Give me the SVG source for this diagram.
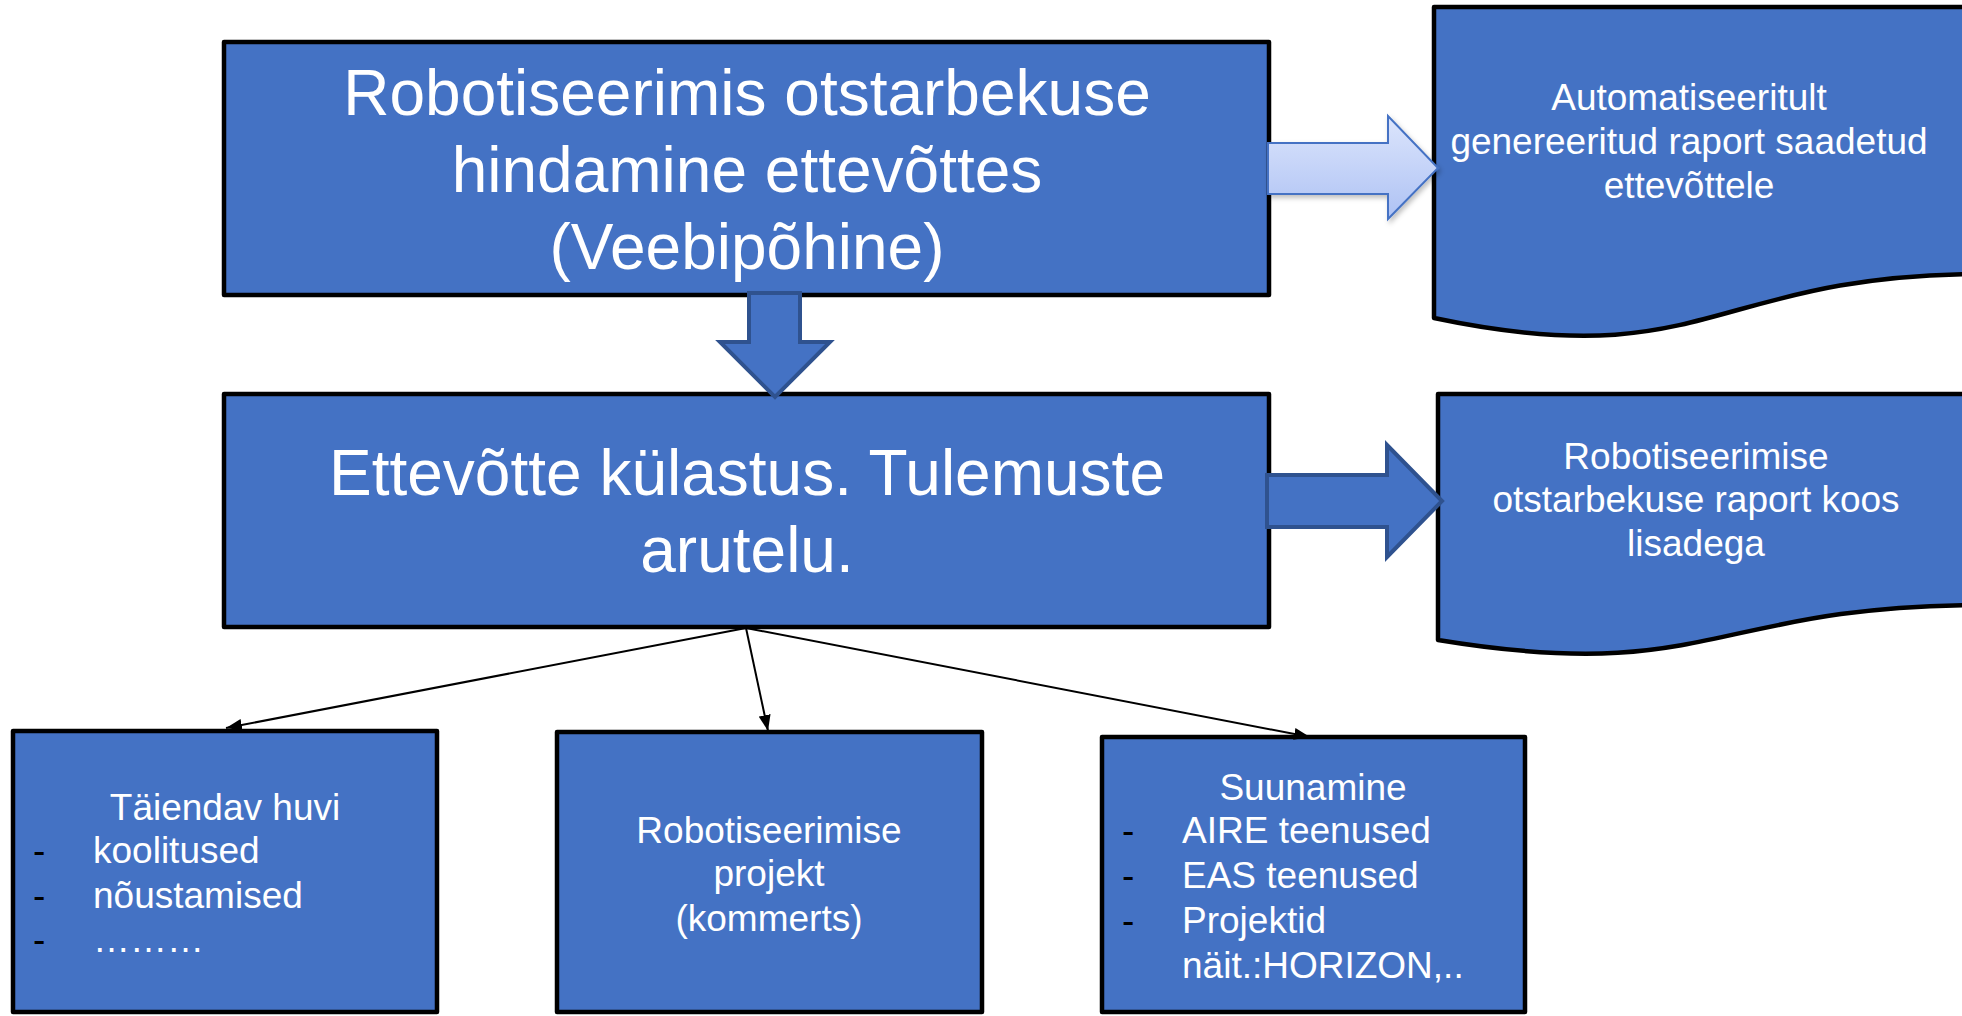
<svg xmlns="http://www.w3.org/2000/svg" width="1962" height="1016" viewBox="0 0 1962 1016">
<style>
.box{fill:#4472C4;stroke:#000;stroke-width:4.5;stroke-linejoin:round}
.t{font-family:"Liberation Sans",Arial,sans-serif;fill:#fff}
.big{font-size:64px;text-anchor:middle}
.mid{font-size:37px}
.c{text-anchor:middle}
.dash{font-family:"Liberation Sans",Arial,sans-serif;font-size:37px;fill:#000}
.conn{stroke:#000;stroke-width:2;fill:none}
.blk{fill:#4472C4;stroke:#2F528F;stroke-width:4}
</style>
<defs>
<marker id="ah" viewBox="0 0 16 12" refX="16" refY="6" markerWidth="16" markerHeight="12" markerUnits="userSpaceOnUse" orient="auto">
<path d="M0,0 L16,6 L0,12 Z" fill="#000"/>
</marker>
<linearGradient id="lg" x1="0" y1="0" x2="0" y2="1">
<stop offset="0" stop-color="#DCE5FC"/>
<stop offset="1" stop-color="#AEC2F4"/>
</linearGradient>
<filter id="sh" x="-10%" y="-10%" width="130%" height="130%">
<feDropShadow dx="2" dy="3" stdDeviation="2.5" flood-color="#000" flood-opacity="0.25"/>
</filter>
</defs>
<rect width="1962" height="1016" fill="#fff"/>

<g id="node-hindamine">
<rect class="box" x="224" y="42" width="1045" height="253"/>
<text class="t big" x="747" y="115">Robotiseerimis otstarbekuse</text>
<text class="t big" x="747" y="192">hindamine ettevõttes</text>
<text class="t big" x="747" y="269">(Veebipõhine)</text>
</g>

<g id="node-kulastus">
<rect class="box" x="224" y="394" width="1045" height="233"/>
<text class="t big" x="747" y="495">Ettevõtte külastus. Tulemuste</text>
<text class="t big" x="747" y="572">arutelu.</text>
</g>

<g id="node-raport-auto">
<path class="box" d="M1434,7 H1985 V274 C1709.5,274 1709.5,376 1434,318 Z"/>
<text class="t mid c" x="1689" y="110">Automatiseeritult</text>
<text class="t mid c" x="1689" y="154">genereeritud raport saadetud</text>
<text class="t mid c" x="1689" y="198">ettevõttele</text>
</g>

<g id="node-raport-lisad">
<path class="box" d="M1438,394 H1985 V605 C1711.5,605 1711.5,685 1438,640 Z"/>
<text class="t mid c" x="1696" y="469">Robotiseerimise</text>
<text class="t mid c" x="1696" y="512">otstarbekuse raport koos</text>
<text class="t mid c" x="1696" y="556">lisadega</text>
</g>

<g id="node-taiendav">
<rect class="box" x="13" y="731" width="424" height="281"/>
<text class="t mid c" x="225" y="820">Täiendav huvi</text>
<text class="dash" x="33" y="863">-</text>
<text class="t mid" x="93" y="863">koolitused</text>
<text class="dash" x="33" y="908">-</text>
<text class="t mid" x="93" y="908">nõustamised</text>
<text class="dash" x="33" y="952">-</text>
<text class="t mid" x="93" y="952">………</text>
</g>

<g id="node-projekt">
<rect class="box" x="557" y="732" width="425" height="280"/>
<text class="t mid c" x="769" y="843">Robotiseerimise</text>
<text class="t mid c" x="769" y="886">projekt</text>
<text class="t mid c" x="769" y="931">(kommerts)</text>
</g>

<g id="node-suunamine">
<rect class="box" x="1102" y="737" width="423" height="275"/>
<text class="t mid c" x="1313" y="800">Suunamine</text>
<text class="dash" x="1122" y="843">-</text>
<text class="t mid" x="1182" y="843">AIRE teenused</text>
<text class="dash" x="1122" y="888">-</text>
<text class="t mid" x="1182" y="888">EAS teenused</text>
<text class="dash" x="1122" y="933">-</text>
<text class="t mid" x="1182" y="933">Projektid</text>
<text class="t mid" x="1182" y="978">näit.:HORIZON,..</text>
</g>

<g id="connectors">
<path class="blk" d="M749,293 H800 V342 H830 L775,397 L720,342 H749 Z"/>
<path d="M1268,143 H1388 V116 L1438,168 L1388,219 V194 H1268 Z" fill="url(#lg)" stroke="#4472C4" stroke-width="2" filter="url(#sh)"/>
<path class="blk" d="M1267,475 H1387 V445 L1442,501 L1387,557 V527 H1267 Z"/>
<line class="conn" x1="746" y1="628" x2="226" y2="728" marker-end="url(#ah)"/>
<line class="conn" x1="746" y1="628" x2="768" y2="731" marker-end="url(#ah)"/>
<line class="conn" x1="746" y1="628" x2="1310" y2="737" marker-end="url(#ah)"/>
</g>
</svg>
